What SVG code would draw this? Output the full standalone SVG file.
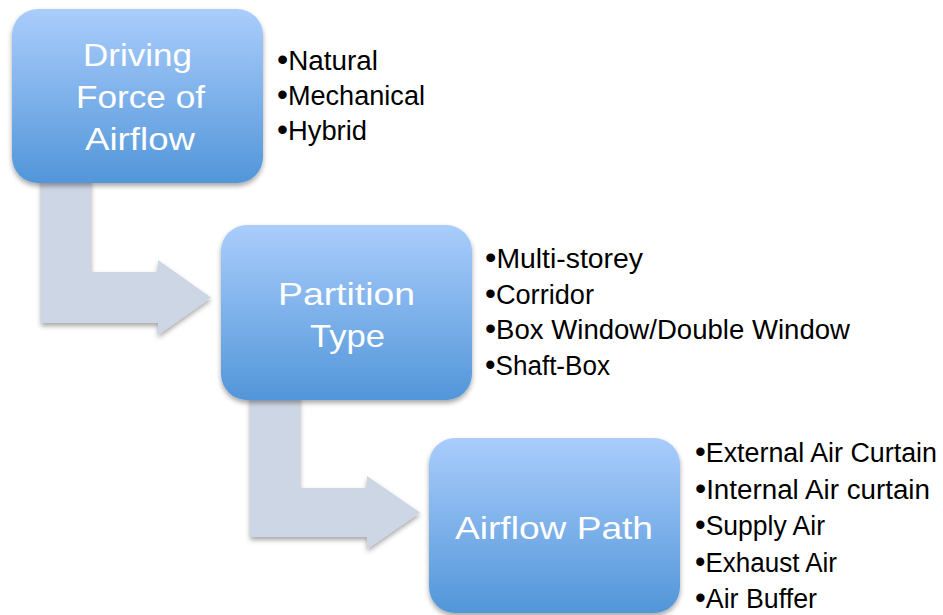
<svg xmlns="http://www.w3.org/2000/svg" width="943" height="615" viewBox="0 0 943 615">
  <defs>
    <linearGradient id="boxGrad" x1="0" y1="0" x2="0" y2="1">
      <stop offset="0" stop-color="#aacdfc"/>
      <stop offset="1" stop-color="#5296d9"/>
    </linearGradient>
    <filter id="shadow" x="-10%" y="-10%" width="120%" height="125%">
      <feDropShadow dx="0" dy="3" stdDeviation="2.5" flood-color="#000" flood-opacity="0.35"/>
    </filter>
  </defs>
  <style>
    .box { fill: url(#boxGrad); filter: url(#shadow); }
    .arrow { fill: #cdd6e4; filter: url(#shadow); }
    .label { font-family: "Liberation Sans", Arial, sans-serif; font-size: 32px; fill: #ffffff; }
    .bullet { font-family: "Liberation Sans", Arial, sans-serif; font-size: 27px; fill: #000000; }
    .dot { font-size: 31px; }
  </style>
  <rect width="943" height="615" fill="#ffffff"/>

  <g id="connectors">
    <polygon class="arrow" points="41,178 91,178 91,272 158,272 158,260 211,297.5 158,335 158,323 41,323"/>
    <polygon class="arrow" points="250,395 300,395 300,488 367,488 367,476 420,512.5 367,549 367,537 250,537"/>
  </g>

  <g id="node-driving-force">
    <rect class="box" x="12" y="9" width="251" height="174" rx="26" ry="26"/>
    <text class="label" x="83" y="66" textLength="109" lengthAdjust="spacingAndGlyphs">Driving</text>
    <text class="label" x="76" y="108" textLength="129" lengthAdjust="spacingAndGlyphs">Force of</text>
    <text class="label" x="85" y="150" textLength="110" lengthAdjust="spacingAndGlyphs">Airflow</text>
  </g>
  <g id="list-driving-force">
    <text class="bullet" x="277" y="70" textLength="101" lengthAdjust="spacingAndGlyphs"><tspan class="dot">•</tspan>Natural</text>
    <text class="bullet" x="277" y="105" textLength="148" lengthAdjust="spacingAndGlyphs"><tspan class="dot">•</tspan>Mechanical</text>
    <text class="bullet" x="277" y="140" textLength="90" lengthAdjust="spacingAndGlyphs"><tspan class="dot">•</tspan>Hybrid</text>
  </g>

  <g id="node-partition-type">
    <rect class="box" x="221" y="225" width="251" height="175" rx="26" ry="26"/>
    <text class="label" x="278" y="305" textLength="137" lengthAdjust="spacingAndGlyphs">Partition</text>
    <text class="label" x="310" y="347" textLength="75" lengthAdjust="spacingAndGlyphs">Type</text>
  </g>
  <g id="list-partition-type">
    <text class="bullet" x="485" y="268" textLength="158" lengthAdjust="spacingAndGlyphs"><tspan class="dot">•</tspan>Multi-storey</text>
    <text class="bullet" x="485" y="303.5" textLength="109" lengthAdjust="spacingAndGlyphs"><tspan class="dot">•</tspan>Corridor</text>
    <text class="bullet" x="485" y="339" textLength="365" lengthAdjust="spacingAndGlyphs"><tspan class="dot">•</tspan>Box Window/Double Window</text>
    <text class="bullet" x="485" y="374.5" textLength="125" lengthAdjust="spacingAndGlyphs"><tspan class="dot">•</tspan>Shaft-Box</text>
  </g>

  <g id="node-airflow-path">
    <rect class="box" x="429" y="438" width="251" height="175" rx="26" ry="26"/>
    <text class="label" x="455" y="539" textLength="198" lengthAdjust="spacingAndGlyphs">Airflow Path</text>
  </g>
  <g id="list-airflow-path">
    <text class="bullet" x="695" y="462" textLength="242" lengthAdjust="spacingAndGlyphs"><tspan class="dot">•</tspan>External Air Curtain</text>
    <text class="bullet" x="695" y="498.5" textLength="235" lengthAdjust="spacingAndGlyphs"><tspan class="dot">•</tspan>Internal Air curtain</text>
    <text class="bullet" x="695" y="535" textLength="130" lengthAdjust="spacingAndGlyphs"><tspan class="dot">•</tspan>Supply Air</text>
    <text class="bullet" x="695" y="571.5" textLength="142" lengthAdjust="spacingAndGlyphs"><tspan class="dot">•</tspan>Exhaust Air</text>
    <text class="bullet" x="695" y="608" textLength="122" lengthAdjust="spacingAndGlyphs"><tspan class="dot">•</tspan>Air Buffer</text>
  </g>
</svg>
